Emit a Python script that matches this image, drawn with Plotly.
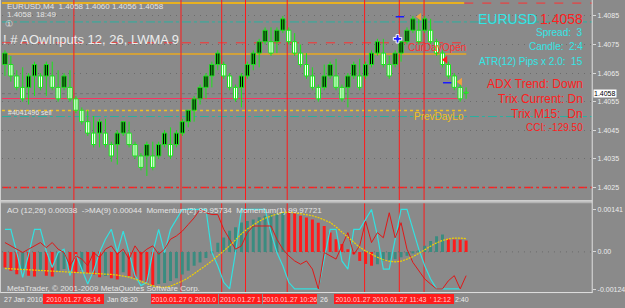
import plotly.graph_objects as go

W, H = 625, 308
def px(x): return x / W
def py(y): return 1 - y / H

# ---------------- data ----------------
idx = list(range(79))
opens = [1.4068,1.4068,1.4064,1.4060,1.4060,1.4064,1.4064,1.4064,1.4064,1.4060,
         1.4060,1.4060,1.4056,1.4052,1.4048,1.4044,1.4044,1.4044,1.4040,1.4040,
         1.4044,1.4044,1.4040,1.4036,1.4036,1.4036,1.4036,1.4040,1.4040,1.4040,
         1.4044,1.4048,1.4052,1.4056,1.4060,1.4064,1.4068,1.4068,1.4064,1.4060,
         1.4060,1.4064,1.4068,1.4072,1.4076,1.4076,1.4076,1.4080,1.4080,1.4076,
         1.4072,1.4068,1.4064,1.4060,1.4060,1.4064,1.4064,1.4060,1.4060,1.4064,
         1.4064,1.4064,1.4068,1.4072,1.4072,1.4068,1.4068,1.4072,1.4076,1.4080,
         1.4080,1.4080,1.4080,1.4076,1.4072,1.4068,1.4064,1.4060,1.4058]
closes = [1.4072,1.4064,1.4060,1.4056,1.4064,1.4068,1.4060,1.4068,1.4060,1.4056,
          1.4064,1.4056,1.4052,1.4048,1.4044,1.4040,1.4048,1.4040,1.4036,1.4044,
          1.4048,1.4040,1.4036,1.4032,1.4040,1.4032,1.4040,1.4044,1.4036,1.4044,
          1.4048,1.4052,1.4056,1.4060,1.4064,1.4068,1.4072,1.4064,1.4060,1.4056,
          1.4064,1.4068,1.4072,1.4076,1.4080,1.4072,1.4080,1.4084,1.4076,1.4072,
          1.4068,1.4064,1.4060,1.4056,1.4064,1.4068,1.4060,1.4056,1.4064,1.4068,
          1.4060,1.4068,1.4072,1.4076,1.4068,1.4064,1.4072,1.4076,1.4080,1.4084,
          1.4076,1.4084,1.4076,1.4072,1.4068,1.4064,1.4060,1.4056,1.4058]
highs = [1.4073,1.4071,1.4066,1.4067,1.4065,1.4069,1.4065,1.4069,1.4069,1.4066,
         1.4065,1.4066,1.4057,1.4053,1.4052,1.4050,1.4049,1.4049,1.4041,1.4045,
         1.4048,1.4048,1.4041,1.4037,1.4041,1.4041,1.4041,1.4045,1.4046,1.4045,
         1.4049,1.4052,1.4057,1.4061,1.4065,1.4069,1.4073,1.4069,1.4065,1.4061,
         1.4065,1.4069,1.4073,1.4077,1.4081,1.4081,1.4081,1.4085,1.4081,1.4079,
         1.4075,1.4072,1.4067,1.4061,1.4068,1.4069,1.4070,1.4061,1.4065,1.4069,
         1.4070,1.4069,1.4073,1.4077,1.4077,1.4071,1.4073,1.4077,1.4081,1.4085,
         1.4084,1.4085,1.4084,1.4077,1.4073,1.4069,1.4065,1.4061,1.4060]
lows = [1.4064,1.4062,1.4059,1.4055,1.4054,1.4057,1.4059,1.4057,1.4059,1.4055,
        1.4059,1.4055,1.4051,1.4047,1.4043,1.4039,1.4039,1.4039,1.4034,1.4033,
        1.4043,1.4039,1.4035,1.4031,1.4029,1.4031,1.4035,1.4039,1.4035,1.4039,
        1.4043,1.4046,1.4048,1.4054,1.4056,1.4060,1.4066,1.4063,1.4059,1.4055,
        1.4053,1.4063,1.4066,1.4067,1.4075,1.4071,1.4072,1.4079,1.4075,1.4071,
        1.4067,1.4063,1.4059,1.4055,1.4059,1.4063,1.4059,1.4055,1.4053,1.4063,
        1.4059,1.4063,1.4067,1.4071,1.4067,1.4063,1.4067,1.4069,1.4075,1.4079,
        1.4075,1.4079,1.4075,1.4071,1.4067,1.4063,1.4059,1.4055,1.4056]

# AO histogram and its MA (in 1e-5 price units)
ao_e5 = [-52,-63,-74,-60,-79,-82,-63,-79,-82,-63,-57,-63,-68,-60,-70,-75,-84,-80,-88,-92,
         -68,-80,-86,-95,-102,-110,-107,-103,-97,-88,-75,-63,-46,-35,-20,-5,30,48,70,82,
         98,103,108,115,120,125,128,131,130,128,120,114,108,97,86,64,42,26,9,-8,
         -30,-40,-46,-41,-30,-29,-24,-18,-13,-5,5,20,36,52,58,42,41,40,38]
ma_e5 = [-55,-56,-57,-58,-59,-60,-61,-62,-63,-64,-66,-68,-69,-70,-71,-72,-73,-74,-75,-77,
         -80,-84,-90,-98,-106,-113,-117,-118,-114,-106,-97,-86,-73,-59,-45,-30,-14,1,20,40,
         60,76,90,102,112,120,126,131,132,130,127,124,120,114,107,98,83,66,48,30,
         15,3,-8,-18,-26,-31,-33,-31,-24,-16,-5,8,19,30,38,43,46,46,44]
mom2_e5 = [75,75,-2,-85,-8,75,75,3,-52,-2,9,-79,-8,-57,-107,-63,-2,42,75,-2,
           69,-2,-79,-112,-101,-2,75,-2,75,108,141,141,141,141,141,-2,-46,-101,-123,-2,
           141,141,141,141,141,64,-2,-46,-101,-123,-123,-123,-123,-123,-24,75,75,-30,-57,75,
           75,108,141,53,-57,-57,47,141,141,75,9,-46,-90,-123,-123,-123,-123,-123]
mom1_e5 = [31,20,9,-2,9,20,31,14,31,9,-2,-46,-13,-24,-46,-2,-19,9,20,-8,
           9,-24,20,-8,9,20,-8,9,42,53,69,91,113,141,130,124,124,75,42,9,
           20,64,86,86,86,86,42,9,-13,-30,-41,-30,-57,-123,-2,-13,-24,20,64,-8,
           20,102,31,64,47,130,47,97,9,-35,-63,-90,-107,-123,-123,-96,-79,-123,-79]

price_ticks = [1.4085, 1.4075, 1.4065, 1.4055, 1.4045, 1.4035, 1.4025]
ind_ticks = [0.00141, 0.0, -0.00124]
ind_tick_text = ["0.00141", "0.00", "-0.00124"]
vline_idx = [11.66, 29.78, 36.66, 40.69, 47.74, 60.83, 66.70, 70.89]

# trade markers
buy_x, buy_p = [66.4], [1.40770]
arr_x, arr_p = [70.1, 77.0], [1.40847, 1.40620]
sell_x, sell_p = [74.5], [1.40697]
dash_x, dash_p = [66.8, 74.8], [1.40847, 1.40616]

# ---------------- figure ----------------
BG = "#8a8a8a"
GREEN = "#19e619"
FONT = "Liberation Sans, Arial, sans-serif"
GRID = "#6c6c6c"

fig = go.Figure()

# wicks
wx, wy = [], []
for i, h, l in zip(idx, highs, lows):
    wx += [i, i, None]
    wy += [l, h, None]
fig.add_trace(go.Scatter(x=wx, y=wy, mode="lines", line=dict(color=GREEN, width=1),
                         xaxis="x", yaxis="y", hoverinfo="skip"))

# bodies
base = [min(o, c) for o, c in zip(opens, closes)]
hgt = [max(abs(c - o), 0.00003) for o, c in zip(opens, closes)]
fill = ["#000000" if c > o else "#ffffff" for o, c in zip(opens, closes)]
fig.add_trace(go.Bar(x=idx, y=hgt, base=base, width=0.72,
                     marker=dict(color=fill, line=dict(color=GREEN, width=1)),
                     xaxis="x", yaxis="y", hoverinfo="skip"))

# trade markers
fig.add_trace(go.Scatter(x=buy_x, y=buy_p, mode="markers", xaxis="x", yaxis="y",
                         marker=dict(symbol="cross", size=7, color="#1a1aff",
                                     line=dict(color="#ffffff", width=1))))
fig.add_trace(go.Scatter(x=arr_x, y=arr_p, mode="markers", xaxis="x", yaxis="y",
                         marker=dict(symbol="triangle-left", size=7, color="#f0a040")))
fig.add_trace(go.Scatter(x=sell_x, y=sell_p, mode="markers", xaxis="x", yaxis="y",
                         marker=dict(symbol="triangle-left", size=7, color="#ff2020")))
fig.add_trace(go.Scatter(x=dash_x, y=dash_p, mode="markers", xaxis="x", yaxis="y",
                         marker=dict(symbol="line-ew", size=6, color="#1a1aff",
                                     line=dict(color="#1a1aff", width=1.5))))

# indicator pane
ao = [v / 1e5 for v in ao_e5]
ao_col = ["#3a8c80" if (k > 0 and ao[k] > ao[k - 1]) else "#ff1a1a" for k in range(len(ao))]
fig.add_trace(go.Bar(x=idx, y=ao, width=0.5, marker=dict(color=ao_col, line=dict(width=0)),
                     xaxis="x2", yaxis="y2", hoverinfo="skip"))
fig.add_trace(go.Scatter(x=idx[:len(mom2_e5)], y=[v / 1e5 for v in mom2_e5], mode="lines",
                         line=dict(color="#33e0e0", width=1.2), xaxis="x2", yaxis="y2"))
fig.add_trace(go.Scatter(x=idx[:len(mom1_e5)], y=[v / 1e5 for v in mom1_e5], mode="lines",
                         line=dict(color="#e01818", width=1), xaxis="x2", yaxis="y2"))
fig.add_trace(go.Scatter(x=idx, y=[v / 1e5 for v in ma_e5], mode="lines",
                         line=dict(color="#f0d000", width=1.2, dash="2px,1px"), xaxis="x2", yaxis="y2"))

XR = [-0.5, 99.33]
YR = [1.4085 - 185 / 28670, 1.4085 + 15 / 28670]
Y2R = [-0.0013344, 0.0016129]

fig.update_layout(
    width=W, height=H, margin=dict(l=0, r=0, t=0, b=0),
    paper_bgcolor=BG, plot_bgcolor=BG, showlegend=False, barmode="overlay",
    font=dict(family=FONT, color="#e8e8e8", size=8),
    xaxis=dict(domain=[px(2), px(597)], range=XR, visible=False, anchor="y"),
    xaxis2=dict(domain=[px(2), px(597)], range=XR, visible=False, anchor="y2", matches="x"),
    yaxis=dict(domain=[py(201), py(1)], range=YR, side="right", anchor="x",
               tickvals=price_ticks, ticktext=[f"{v:.4f}" for v in price_ticks],
               ticks="outside", ticklen=3, tickcolor="#d8d8d8",
               tickfont=dict(size=7, color="#ececec", family=FONT),
               showgrid=True, gridcolor=GRID, griddash="1px,5px", gridwidth=1, zeroline=False),
    yaxis2=dict(domain=[py(293), py(204)], range=Y2R, side="right", anchor="x2",
                tickvals=ind_ticks, ticktext=ind_tick_text,
                ticks="outside", ticklen=3, tickcolor="#d8d8d8",
                tickfont=dict(size=7, color="#ececec", family=FONT),
                showgrid=False, zeroline=False),
)

shapes = []
def hline(p, x0, x1, color, dash="solid", width=1):
    shapes.append(dict(type="line", xref="paper", yref="y", x0=px(x0), x1=px(x1), y0=p, y1=p,
                       line=dict(color=color, dash=dash, width=width), layer="below"))

hline(1.40895, 2, 468, "#e8b020", "solid", 2)
hline(1.40895, 468, 597, "#ff3030", "dash", 1)
hline(1.40829, 2, 597, "#2ab0a0", "dashdot", 1)
hline(1.40756, 2, 470, "#ff3030", "dash", 1)
hline(1.40717, 2, 470, "#e8a820", "solid", 1.5)
hline(1.40578, 2, 470, "#727272", "dot", 1)
hline(1.40561, 2, 465, "#ff3060", "solid", 1)
hline(1.40519, 2, 470, "#f0c020", "dot", 1.5)
hline(1.40498, 2, 597, "#2ab0a0", "dashdot", 1)
hline(1.40250, 2, 597, "#ff2020", "dashdot", 1.5)

for v in vline_idx:
    shapes.append(dict(type="line", xref="x", yref="paper", x0=v, x1=v, y0=py(293), y1=1,
                       line=dict(color="#ff1a1a", width=1), layer="below"))

# frame / separators
shapes.append(dict(type="rect", xref="paper", yref="paper", x0=0, x1=px(597),
                   y0=py(204), y1=py(201), fillcolor="#b4b4b4", line=dict(width=0)))
shapes.append(dict(type="line", xref="paper", yref="paper", x0=0, x1=px(597),
                   y0=py(201.5), y1=py(201.5), line=dict(color="#e0e0e0", width=1)))
shapes.append(dict(type="line", xref="paper", yref="paper", x0=px(597), x1=px(597),
                   y0=py(294), y1=1, line=dict(color="#e0e0e0", width=1)))
shapes.append(dict(type="line", xref="paper", yref="paper", x0=0, x1=px(597),
                   y0=py(293.5), y1=py(293.5), line=dict(color="#e0e0e0", width=1)))
shapes.append(dict(type="line", xref="paper", yref="paper", x0=px(0.5), x1=px(0.5),
                   y0=py(294), y1=1, line=dict(color="#d0d0d0", width=1)))
shapes.append(dict(type="line", xref="paper", yref="y2", x0=px(2), x1=px(597),
                   y0=0, y1=0, line=dict(color=GRID, width=1, dash="1px,5px"), layer="below"))
fig.update_layout(shapes=shapes)

ann = []
def txt(x, y, s, size, color, anchor="left", **kw):
    ann.append(dict(x=px(x), y=py(y), xref="paper", yref="paper", text=s, showarrow=False,
                    xanchor=anchor, yanchor="middle", font=dict(size=size, color=color, family=FONT), **kw))

txt(5, 7, "EURUSD,M4  1.4058 1.4060 1.4056 1.4058", 8, "#e4e4e4")
txt(5, 15, "1.4058  18:49", 8, "#e4e4e4")
txt(3, 24, "\u2460", 9, "#e4e4e4")
txt(1, 40, "! # AOwInputs 12, 26, LWMA 9", 13, "#ececec")
txt(480, 19, "EURUSD", 14, "#33e6e6")
txt(590, 19, "1.4058", 14, "#ff2020", "right")
txt(590, 33, "Spread:  3", 10, "#33e6e6", "right")
txt(590, 47, "Candle:  2:4", 10, "#33e6e6", "right")
txt(590, 62, "ATR(12) Pips x 2.0:  15", 10, "#33e6e6", "right")
txt(590, 84, "ADX Trend: Down", 12, "#ff2020", "right")
txt(590, 99, "Trix Current: Dn", 12, "#ff2020", "right")
txt(590, 114, "Trix M15:  Dn", 12, "#ff2020", "right")
txt(590, 128, "CCI: -129.50", 10, "#ff2020", "right")
txt(409, 48, "CurDayOpen", 10, "#ff3030")
txt(415, 117, "PrevDayLo", 10, "#f0c020")
txt(6, 113, "#4041496 sell", 7, "#e8e8e8")
txt(5, 211, "AO (12,26) 0.00038  ->MA(9) 0.00044  Momentum(2) 99.95734  Momentum(1) 99.97721", 8, "#e4e4e4")
txt(5, 289, "MetaTrader, \u00a9 2001-2009 MetaQuotes Software Corp.", 8, "#e4e4e4")

# time axis
txt(2, 300, "27 Jan 2010", 7, "#ececec")
txt(106, 300, "Jan 08:20", 7, "#ececec")
txt(321, 300, "26", 7, "#ececec")
txt(457, 300, "2:40", 7, "#ececec")
boxes = [(43, 61, "2010.01.27 08:14"), (152, 42, "2010.01.27 0"), (195, 25, "2010.0"),
         (221, 43, "2010.01.27 1"), (265, 54, "2010.01.27 10:26"), (337, 38, "2010.01.27"),
         (375, 55, "2010.01.27 11:43"), (430, 27, "' 12:12")]
for x0, w, s in boxes:
    ann.append(dict(x=px(x0), y=py(300), xref="paper", yref="paper", text=s, showarrow=False,
                    xanchor="left", yanchor="middle", width=w, height=10, align="center",
                    bgcolor="#ff1c1c", borderpad=0, borderwidth=0,
                    font=dict(size=7, color="#ffd0d0", family=FONT)))

# current price label on axis
ann.append(dict(x=px(598), y=1.4058, xref="paper", yref="y", text="1.4058", showarrow=False,
                xanchor="left", yanchor="middle", bgcolor="#ffffff", borderpad=0,
                font=dict(size=7, color="#000000", family=FONT)))
fig.update_layout(annotations=ann)

fig.write_html("out.html")
